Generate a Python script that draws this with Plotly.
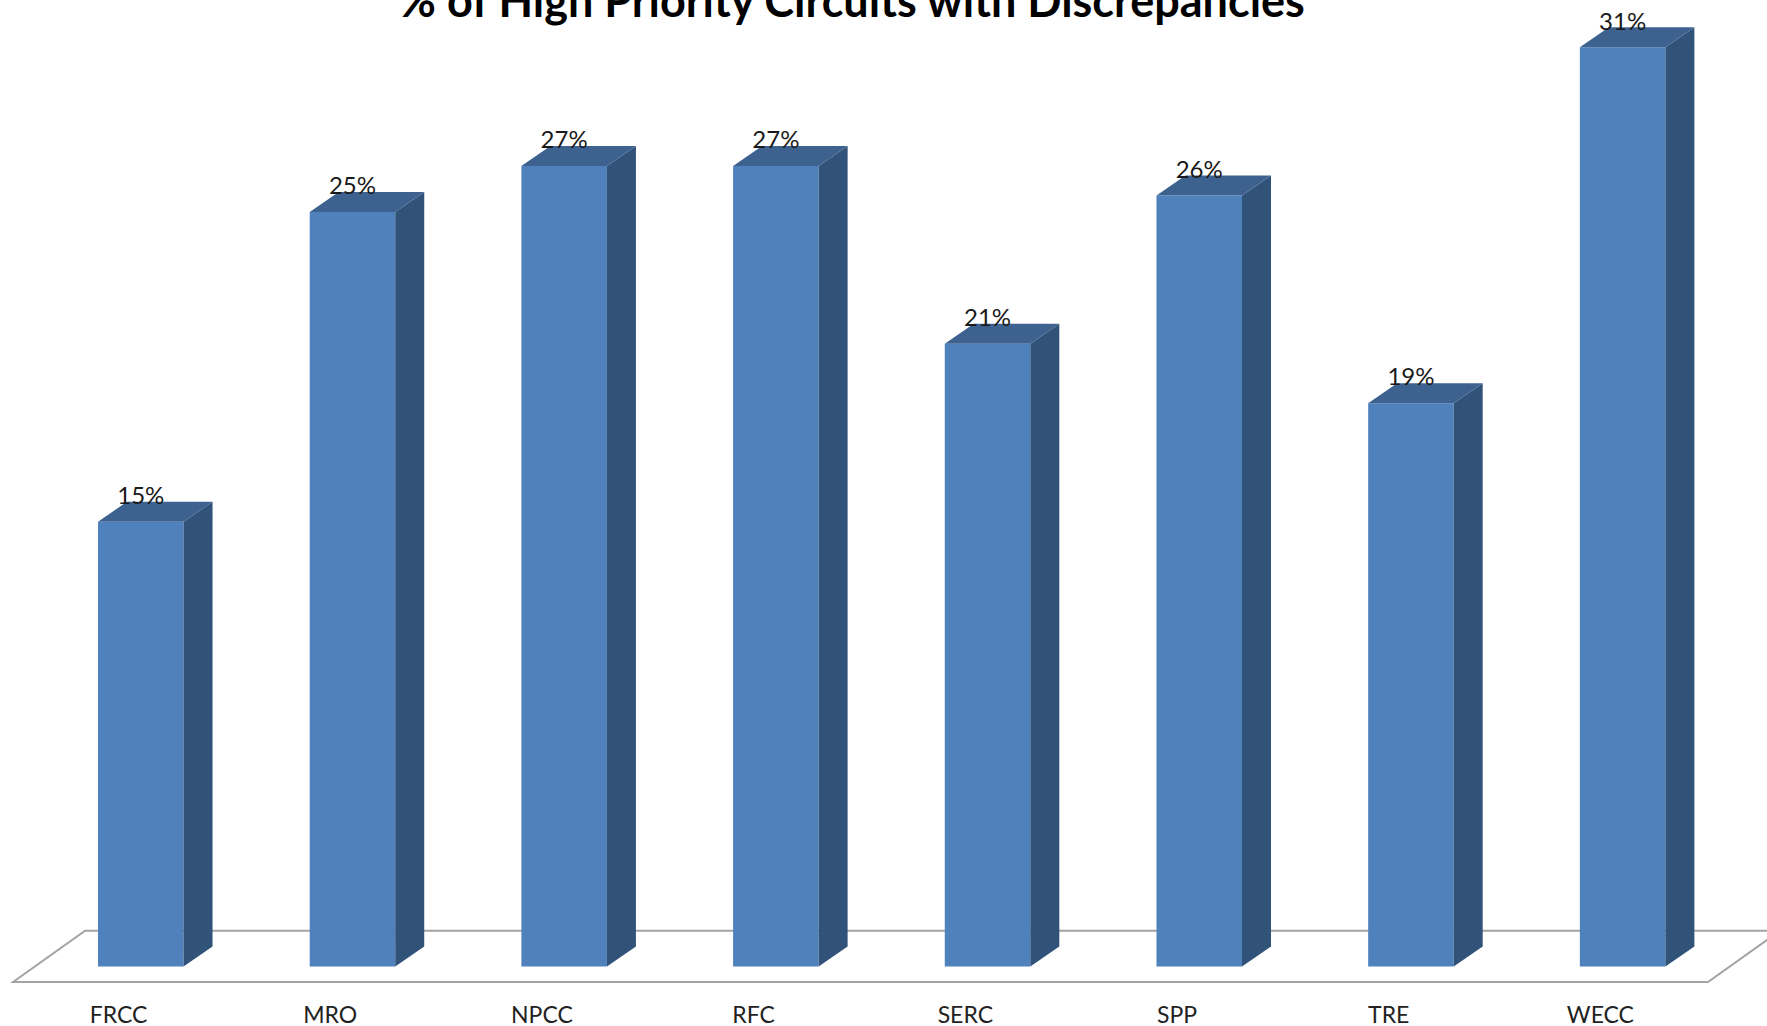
import plotly.graph_objects as go

categories = ["FRCC", "MRO", "NPCC", "RFC", "SERC", "SPP", "TRE", "WECC"]
values = [15.0, 25.45, 27.0, 27.0, 21.0, 26.0, 19.0, 31.0]
labels = ["15%", "25%", "27%", "27%", "21%", "26%", "19%", "31%"]
title = "% of High Priority Circuits with Discrepancies"

BAR_W = 0.404
DX, DY = 0.137, 0.675      # oblique depth of each column, in axis units
FRONT = "#4F81BD"
SIDE = "#325379"
TOP = "#3D6290"
FLOOR = "#A3A3A3"
FONT = "Lato"
LABEL_RISE = 0.80
TICK_SHIFT = -0.105

idx = list(range(len(categories)))
fig = go.Figure()

fig.add_bar(x=idx, y=values, width=BAR_W, marker=dict(color=FRONT, line=dict(width=0)),
            name="Front", showlegend=False)

for i, v in zip(idx, values):
    r = i + BAR_W / 2
    l = i - BAR_W / 2
    fig.add_scatter(x=[r, r + DX, r + DX, r, r], y=[0, DY, v + DY, v, 0], mode="lines",
                    fill="toself", fillcolor=SIDE, line=dict(width=0, color=SIDE),
                    showlegend=False, hoverinfo="skip")
    fig.add_scatter(x=[l, r, r + DX, l + DX, l], y=[v, v, v + DY, v + DY, v], mode="lines",
                    fill="toself", fillcolor=TOP, line=dict(width=0, color=TOP),
                    showlegend=False, hoverinfo="skip")

fig.add_scatter(x=idx, y=[v + LABEL_RISE for v in values], text=labels, mode="text",
                textposition="middle center", textfont=dict(family=FONT, size=24, color="#1a1a1a"),
                showlegend=False, hoverinfo="skip")

# floor plane behind the columns
fl, fr, fb, ft, fdx = -0.603, 7.403, -0.523, 1.207, 0.34
fig.add_shape(type="path", xref="x", yref="y", layer="below",
              path=f"M {fl} {fb} L {fr} {fb} L {fr + fdx} {ft} L {fl + fdx} {ft} Z",
              line=dict(color=FLOOR, width=2), fillcolor="white")

fig.update_layout(
    width=1767, height=1026, autosize=False,
    margin=dict(l=0, r=0, t=0, b=36, pad=0),
    paper_bgcolor="white", plot_bgcolor="white", showlegend=False,
    title=dict(text=f"<b>{title}</b>", x=852 / 1767, xanchor="center",
               y=1 - 17 / 1026, yanchor="bottom",
               font=dict(family=FONT, size=45, color="black")),
    xaxis=dict(range=[-0.665, 7.682], tickvals=[i + TICK_SHIFT for i in idx], ticktext=categories,
               tickfont=dict(family=FONT, size=23, color="#222222"), showgrid=False, zeroline=False,
               showline=False, ticks="", ticklabelstandoff=9, automargin=False),
    yaxis=dict(range=[-0.793, 32.597], visible=False, showgrid=False, zeroline=False, automargin=False),
)

fig.write_html("out.html", config=dict(displayModeBar=False),
               post_script="document.body.style.margin='0';")
